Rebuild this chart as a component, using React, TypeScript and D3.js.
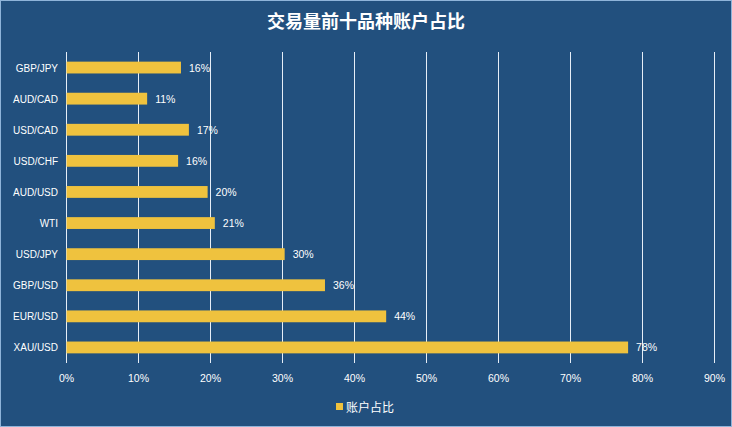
import React from "react";
import * as d3 from "d3";

const title = "交易量前十品种账户占比";
const seriesName = "账户占比";
const categories = ["GBP/JPY", "AUD/CAD", "USD/CAD", "USD/CHF", "AUD/USD", "WTI", "USD/JPY", "GBP/USD", "EUR/USD", "XAU/USD"];
const shares = [15.9, 11.2, 17.0, 15.5, 19.6, 20.6, 30.3, 35.9, 44.4, 78.0];
const xTicks = [0, 10, 20, 30, 40, 50, 60, 70, 80, 90];

const W = 732;
const H = 427;
const plot = { left: 66.5, right: 714.5, top: 52, bottom: 363 };
const bg = "#22507e";
const gold = "#efc23e";
const font = "'Liberation Sans', 'Noto Sans', sans-serif";

if (typeof document !== "undefined") document.body.style.margin = "0";

export default function App() {
  const x = d3.scaleLinear().domain([0, 90]).range([plot.left, plot.right]);
  const y = d3.scaleBand<string>().domain(categories).range([plot.top, plot.bottom]).paddingInner(0.62).paddingOuter(0.31);

  return (
    <svg width={W} height={H} style={{ display: "block" }}>
      <rect x={0.5} y={0.5} width={W - 1} height={H - 1} fill={bg} stroke="#8fb4d9" strokeWidth={1} />
      <text x={W / 2} y={28} textAnchor="middle" fill="#fff" fontSize={18} fontWeight="bold"
        fontFamily="'Noto Sans CJK SC', sans-serif">{title}</text>

      {xTicks.map((t) => (
        <g key={t}>
          <line x1={x(t)} x2={x(t)} y1={plot.top} y2={plot.bottom} stroke="#e6eef7" strokeWidth={1} />
          <text x={x(t)} y={382} textAnchor="middle" fill="#fff" fontSize={10.5} fontFamily={font}>{t}%</text>
        </g>
      ))}

      {categories.map((c, i) => {
        const yc = (y(c) ?? 0) + y.bandwidth() / 2;
        return (
          <g key={c}>
            <text x={58} y={yc + 4} textAnchor="end" fill="#fff" fontSize={10} fontFamily={font}>{c}</text>
            <rect x={x(0)} y={y(c)} width={x(shares[i]) - x(0)} height={y.bandwidth()} fill={gold} />
            <text x={x(shares[i]) + 8} y={yc + 4} fill="#fff" fontSize={10.5} fontFamily={font}>
              {Math.round(shares[i])}%
            </text>
          </g>
        );
      })}

      <rect x={336} y={403} width={7} height={7} fill={gold} />
      <text x={346} y={411.5} fill="#fff" fontSize={12} fontFamily="'Noto Sans CJK SC', sans-serif">{seriesName}</text>
    </svg>
  );
}
